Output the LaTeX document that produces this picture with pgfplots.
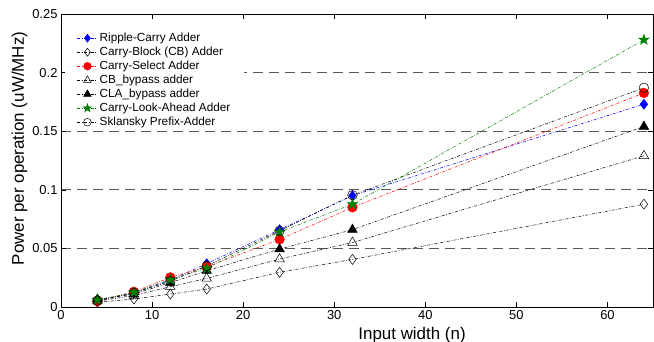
\documentclass[border=0pt]{standalone}
\usepackage{pgfplots}
\pgfplotsset{compat=1.18}
\usepackage{fontspec}
\setmainfont{Liberation Sans}

\pgfdeclareplotmark{pentagram*}{%
  \pgfpathmoveto{\pgfpoint{0pt}{\pgfplotmarksize}}%
  \pgfpathlineto{\pgfpoint{-0.2245\pgfplotmarksize}{0.309\pgfplotmarksize}}%
  \pgfpathlineto{\pgfpoint{-0.951\pgfplotmarksize}{0.309\pgfplotmarksize}}%
  \pgfpathlineto{\pgfpoint{-0.363\pgfplotmarksize}{-0.118\pgfplotmarksize}}%
  \pgfpathlineto{\pgfpoint{-0.588\pgfplotmarksize}{-0.809\pgfplotmarksize}}%
  \pgfpathlineto{\pgfpoint{0pt}{-0.382\pgfplotmarksize}}%
  \pgfpathlineto{\pgfpoint{0.588\pgfplotmarksize}{-0.809\pgfplotmarksize}}%
  \pgfpathlineto{\pgfpoint{0.363\pgfplotmarksize}{-0.118\pgfplotmarksize}}%
  \pgfpathlineto{\pgfpoint{0.951\pgfplotmarksize}{0.309\pgfplotmarksize}}%
  \pgfpathlineto{\pgfpoint{0.2245\pgfplotmarksize}{0.309\pgfplotmarksize}}%
  \pgfpathclose
  \pgfusepathqfillstroke
}

\definecolor{mblue}{rgb}{0,0,1}
\definecolor{mred}{rgb}{1,0,0}
\definecolor{mgreen}{rgb}{0,0.5,0}

\pgfplotstableread{
x   rca     cb      csel    cbb     clab    cla     skl
4   0.0050  0.0040  0.0050  0.0050  0.0065  0.0060  0.0055
8   0.0120  0.0068  0.0130  0.0098  0.0110  0.0125  0.0120
12  0.0230  0.0110  0.0253  0.0173  0.0207  0.0235  0.0220
16  0.0370  0.0153  0.0343  0.0244  0.0310  0.0330  0.0350
24  0.0660  0.0296  0.0577  0.0409  0.0494  0.0640  0.0650
32  0.0950  0.0406  0.0850  0.0550  0.0660  0.0877  0.0954
64  0.1730  0.0877  0.1826  0.1290  0.1540  0.2280  0.1870
}\datatable

\begin{document}
\begin{tikzpicture}
\useasboundingbox (-61bp,-35bp) rectangle (593bp,307bp);
\begin{axis}[
  scale only axis, width=592bp, height=293bp,
  xmin=0, xmax=65, ymin=0, ymax=0.25,
  xtick={0,10,20,30,40,50,60},
  ytick={0,0.05,0.1,0.15,0.2,0.25},
  tick align=inside, major tick length=5bp,
  axis line style={line width=0.6bp},
  every tick/.style={black, line width=0.5bp},
  ymajorgrids,
  grid style={dash pattern=on 10bp off 6bp, black!65, line width=0.6bp},
  /pgf/number format/assume math mode=true,
  ticklabel style={font=\fontsize{13}{15}\selectfont},
  yticklabel style={/pgf/number format/fixed, /pgf/number format/precision=2},
  xlabel={Input width (n)},
  ylabel={Power per operation (uW/MHz)},
  label style={font=\fontsize{17}{20}\selectfont},
  xlabel style={at={(axis description cs:0.593,-0.1102)}, anchor=base},
  ylabel style={at={(axis description cs:-0.0701,0.541)}, anchor=center},
  legend cell align=left,
  legend style={at={(0,1)}, anchor=north west, xshift=4bp, yshift=-16bp, draw=none, fill=white,
    font=\fontsize{11.8}{13}\selectfont, inner xsep=12bp, inner ysep=1bp,
    row sep=0bp},
  legend image code/.code={\draw[mark repeat=2,mark phase=2,#1, every mark/.append style={scale=0.8}] plot coordinates {(0bp,0bp) (10bp,0bp) (20bp,0bp)};},
  every axis plot/.append style={line width=0.5bp, dash pattern=on 3bp off 1.5bp on 0.7bp off 1.5bp},
]
\addplot[mblue, mark=diamond*, mark size=5bp, mark options={solid, fill=mblue}] table[x=x,y=rca] {\datatable};
\addlegendentry{Ripple-Carry Adder}
\addplot[black, mark=diamond, mark size=5bp, mark options={solid}] table[x=x,y=cb] {\datatable};
\addlegendentry{Carry-Block (CB) Adder}
\addplot[mred, mark=*, mark size=4.8bp, mark options={solid, fill=mred}] table[x=x,y=csel] {\datatable};
\addlegendentry{Carry-Select Adder}
\addplot[black, mark=triangle, mark size=5.5bp, mark options={solid}] table[x=x,y=cbb] {\datatable};
\addlegendentry{CB\_bypass adder}
\addplot[black, mark=triangle*, mark size=5.5bp, mark options={solid, fill=black}] table[x=x,y=clab] {\datatable};
\addlegendentry{CLA\_bypass adder}
\addplot[mgreen, mark=pentagram*, mark size=5.5bp, mark options={solid, fill=mgreen}] table[x=x,y=cla] {\datatable};
\addlegendentry{Carry-Look-Ahead Adder}
\addplot[black, mark=o, mark size=4.8bp, mark options={solid}] table[x=x,y=skl] {\datatable};
\addlegendentry{Sklansky Prefix-Adder}
\end{axis}
\end{tikzpicture}
\end{document}
